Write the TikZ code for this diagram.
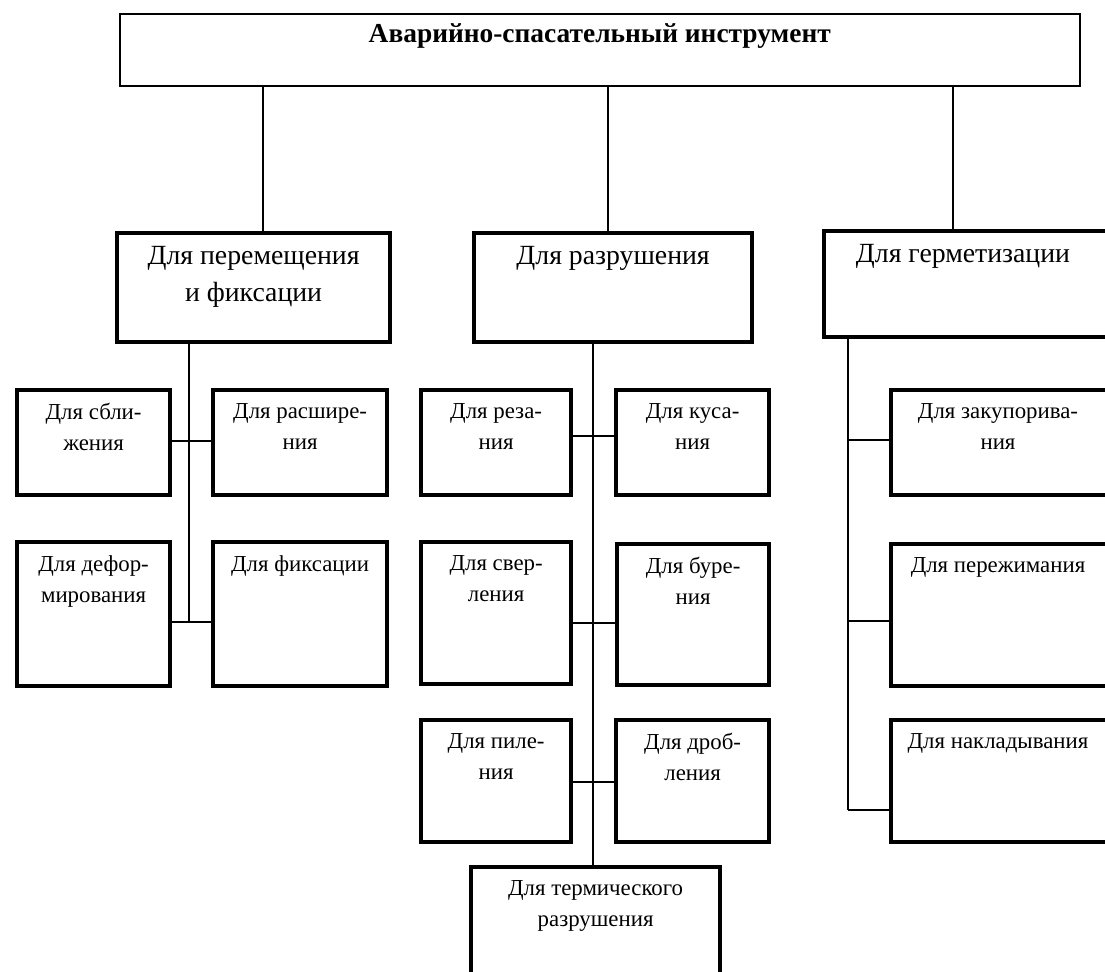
\documentclass[tikz,border=0pt]{standalone}
\usepackage{fontspec}
\setmainfont{Liberation Serif}
\usetikzlibrary{calc,positioning}
\newcommand{\px}{0.02cm}
\tikzstyle{tool}=[rectangle, draw=black, line width=2.4pt, fill=white, inner sep=0cm, anchor=north west]
\tikzstyle{head}=[tool, line width=0.9pt]
\tikzstyle{lbl}=[anchor=north, align=center, inner sep=0cm, font=\fontsize{13}{17.6}\selectfont]
\tikzstyle{biglbl}=[lbl, font=\fontsize{15.8}{21}\selectfont]
\tikzstyle{link}=[line width=0.8pt]
% box with its caption hanging from the top edge
\newcommand{\toolbox}[7]{ \node[tool, minimum width=#4*\px, minimum height=#5*\px] (#1) at (#2,#3) {};
    \node[#6] (#1t) at ($(#1.north)+(0,15)$) {#7}; }

\begin{document}
\begin{tikzpicture}[x=0.02cm, y=-0.02cm]
        \useasboundingbox (0,0) rectangle (1105,971);
        \clip (0,0) rectangle (1105,971);
        \node[head, minimum width=960*\px, minimum height=72*\px] (top) at (119,13) {};
        \node[lbl, font=\bfseries\fontsize{15.6}{18}\selectfont] (topt) at ($(top.north)+(0,10)$) {Аварийно-спасательный инструмент};

        \toolbox{A}{115}{231}{273}{109}{biglbl}{Для перемещения\\и фиксации}
        \toolbox{B}{472}{231}{278}{109}{biglbl}{Для разрушения}
        \toolbox{C}{822}{229}{320}{106}{biglbl}{}
        \node[biglbl] (Cc) at ($(C.north west)+(141,15)$) {Для герметизации};

        \toolbox{L1}{15}{388}{153}{105}{lbl}{Для сбли-\\жения}
        \toolbox{L2}{211}{388}{174}{105}{lbl}{Для расшире-\\ния}
        \toolbox{L3}{15}{540}{153}{144}{lbl}{Для дефор-\\мирования}
        \toolbox{L4}{211}{540}{174}{144}{lbl}{Для фиксации}

        \toolbox{M1}{419}{388}{150}{105}{lbl}{Для реза-\\ния}
        \toolbox{M2}{614}{388}{153}{105}{lbl}{Для куса-\\ния}
        \toolbox{M3}{419}{540}{150}{142}{lbl}{Для свер-\\ления}
        \toolbox{M4}{615}{542}{152}{141}{lbl}{Для буре-\\ния}
        \toolbox{M5}{419}{718}{150}{122}{lbl}{Для пиле-\\ния}
        \toolbox{M6}{614}{718}{153}{122}{lbl}{Для дроб-\\ления}
        \toolbox{M7}{469}{865}{249}{140}{lbl}{Для термического\\разрушения}

        \toolbox{R1}{889}{388}{250}{105}{lbl}{}
        \toolbox{R2}{889}{542}{250}{142}{lbl}{}
        \toolbox{R3}{889}{718}{250}{122}{lbl}{}
        \node[lbl] (R1c) at ($(R1.north west)+(109,15)$) {Для закупорива-\\ния};
        \node[lbl] (R2c) at ($(R2.north west)+(109,15)$) {Для пережимания};
        \node[lbl] (R3c) at ($(R3.north west)+(109,15)$) {Для накладывания};

        % drops from the head box
        \foreach \n/\x in {A/263,B/608,C/953}{
            \coordinate (d\n) at (\x,0);
            \draw[link] (top.south -| d\n) -- (\n.north -| d\n);
        }

        % spines
        \coordinate (sL) at (189,622);
        \coordinate (sM) at (593,0);
        \coordinate (sR) at (848,810);
        \draw[link] (A.south -| sL) -- (sL);
        \draw[link] (B.south -| sM) -- (M7.north -| sM);
        \draw[link] (C.south -| sR) -- (sR);

        % branches
        \foreach \a/\b/\y in {L1/L2/441,L3/L4/622,M1/M2/436,M3/M4/623,M5/M6/782}{
            \coordinate (y\a) at (0,\y);
            \draw[link] (\a.east |- y\a) -- (\b.west |- y\a);
        }
        \foreach \r/\y in {R1/440,R2/621,R3/810}{
            \coordinate (y\r) at (0,\y);
            \draw[link] (sR |- y\r) -- (\r.west |- y\r);
        }
\end{tikzpicture}
\end{document}
